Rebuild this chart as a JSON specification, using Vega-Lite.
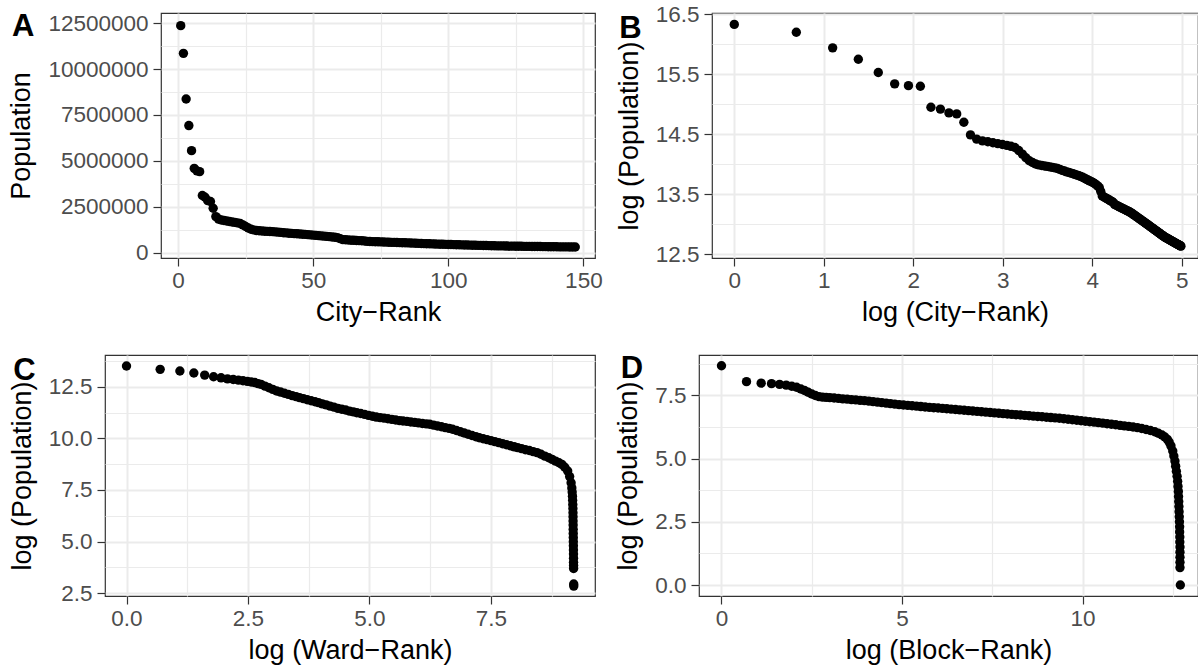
{
  "$schema": "https://vega.github.io/schema/vega-lite/v6.json",
  "background": "white",
  "padding": {"left": 6, "top": 2, "right": 0, "bottom": 0},
  "config": {
    "font": "Liberation Sans",
    "view": {"stroke": "#333333", "strokeWidth": 1.2},
    "axis": {
      "labelFont": "Liberation Sans", "labelFontSize": 22.5, "labelColor": "#4D4D4D",
      "titleFont": "Liberation Sans", "titleFontSize": 27, "titleFontWeight": "normal", "titleColor": "black",
      "tickColor": "#333333", "tickSize": 8, "tickWidth": 1.2,
      "domain": false, "gridColor": "#EBEBEB",
      "labelOverlap": false, "labelFlush": false, "labelBound": false
    },
    "axisX": {"labelPadding": 3, "titlePadding": 8},
    "axisY": {"labelPadding": 5, "titlePadding": 12},
    "title": {"anchor": "start", "frame": "bounds", "fontSize": 31, "fontWeight": "bold", "font": "Liberation Sans", "color": "black", "offset": 0}
  },
  "datasets": {
    "cities": [
      {"rank":1,"pop":12360000,"lrank":0,"lpop":16.33},
      {"rank":2,"pop":10853000,"lrank":0.693,"lpop":16.2},
      {"rank":3,"pop":8369000,"lrank":1.099,"lpop":15.94},
      {"rank":4,"pop":6921000,"lrank":1.386,"lpop":15.75},
      {"rank":5,"pop":5554000,"lrank":1.609,"lpop":15.53},
      {"rank":6,"pop":4593000,"lrank":1.792,"lpop":15.34},
      {"rank":7,"pop":4457000,"lrank":1.946,"lpop":15.31},
      {"rank":8,"pop":4413000,"lrank":2.079,"lpop":15.3},
      {"rank":9,"pop":3110000,"lrank":2.197,"lpop":14.95},
      {"rank":10,"pop":3018000,"lrank":2.303,"lpop":14.92},
      {"rank":11,"pop":2831000,"lrank":2.398,"lpop":14.856},
      {"rank":12,"pop":2786000,"lrank":2.485,"lpop":14.84},
      {"rank":13,"pop":2422000,"lrank":2.565,"lpop":14.7},
      {"rank":14,"pop":1963000,"lrank":2.639,"lpop":14.49},
      {"rank":15,"pop":1830000,"lrank":2.708,"lpop":14.42},
      {"rank":16,"pop":1776000,"lrank":2.773,"lpop":14.39},
      {"rank":17,"pop":1750000,"lrank":2.833,"lpop":14.375},
      {"rank":18,"pop":1724000,"lrank":2.89,"lpop":14.36},
      {"rank":19,"pop":1698000,"lrank":2.944,"lpop":14.345},
      {"rank":20,"pop":1673000,"lrank":2.996,"lpop":14.33},
      {"rank":21,"pop":1648000,"lrank":3.045,"lpop":14.315},
      {"rank":22,"pop":1623000,"lrank":3.091,"lpop":14.3},
      {"rank":23,"pop":1591000,"lrank":3.135,"lpop":14.28},
      {"rank":24,"pop":1514000,"lrank":3.178,"lpop":14.23},
      {"rank":25,"pop":1425000,"lrank":3.219,"lpop":14.17},
      {"rank":26,"pop":1342000,"lrank":3.258,"lpop":14.11},
      {"rank":27,"pop":1277000,"lrank":3.296,"lpop":14.06},
      {"rank":28,"pop":1239000,"lrank":3.332,"lpop":14.03},
      {"rank":29,"pop":1209000,"lrank":3.367,"lpop":14.005},
      {"rank":30,"pop":1191000,"lrank":3.401,"lpop":13.99},
      {"rank":31,"pop":1179000,"lrank":3.434,"lpop":13.98},
      {"rank":32,"pop":1169000,"lrank":3.466,"lpop":13.972},
      {"rank":33,"pop":1161000,"lrank":3.497,"lpop":13.965},
      {"rank":34,"pop":1153000,"lrank":3.526,"lpop":13.958},
      {"rank":35,"pop":1144000,"lrank":3.555,"lpop":13.95},
      {"rank":36,"pop":1133000,"lrank":3.584,"lpop":13.94},
      {"rank":37,"pop":1121000,"lrank":3.611,"lpop":13.93},
      {"rank":38,"pop":1105000,"lrank":3.638,"lpop":13.915},
      {"rank":39,"pop":1088000,"lrank":3.664,"lpop":13.9},
      {"rank":40,"pop":1075000,"lrank":3.689,"lpop":13.888},
      {"rank":41,"pop":1061000,"lrank":3.714,"lpop":13.875},
      {"rank":42,"pop":1051000,"lrank":3.738,"lpop":13.865},
      {"rank":43,"pop":1038000,"lrank":3.761,"lpop":13.853},
      {"rank":44,"pop":1028000,"lrank":3.784,"lpop":13.843},
      {"rank":45,"pop":1017000,"lrank":3.807,"lpop":13.832},
      {"rank":46,"pop":1006000,"lrank":3.829,"lpop":13.821},
      {"rank":47,"pop":995000,"lrank":3.85,"lpop":13.81},
      {"rank":48,"pop":983000,"lrank":3.871,"lpop":13.798},
      {"rank":49,"pop":969000,"lrank":3.892,"lpop":13.784},
      {"rank":50,"pop":956000,"lrank":3.912,"lpop":13.77},
      {"rank":51,"pop":940000,"lrank":3.932,"lpop":13.754},
      {"rank":52,"pop":927000,"lrank":3.951,"lpop":13.74},
      {"rank":53,"pop":913000,"lrank":3.97,"lpop":13.725},
      {"rank":54,"pop":900000,"lrank":3.989,"lpop":13.71},
      {"rank":55,"pop":888000,"lrank":4.007,"lpop":13.697},
      {"rank":56,"pop":873000,"lrank":4.025,"lpop":13.68},
      {"rank":57,"pop":856000,"lrank":4.043,"lpop":13.66},
      {"rank":58,"pop":839000,"lrank":4.06,"lpop":13.64},
      {"rank":59,"pop":818000,"lrank":4.078,"lpop":13.614},
      {"rank":60,"pop":767000,"lrank":4.094,"lpop":13.55},
      {"rank":61,"pop":710000,"lrank":4.111,"lpop":13.473},
      {"rank":62,"pop":701000,"lrank":4.127,"lpop":13.46},
      {"rank":63,"pop":690000,"lrank":4.143,"lpop":13.445},
      {"rank":64,"pop":680000,"lrank":4.159,"lpop":13.43},
      {"rank":65,"pop":673000,"lrank":4.174,"lpop":13.42},
      {"rank":66,"pop":663000,"lrank":4.19,"lpop":13.405},
      {"rank":67,"pop":653000,"lrank":4.205,"lpop":13.39},
      {"rank":68,"pop":647000,"lrank":4.22,"lpop":13.38},
      {"rank":69,"pop":637000,"lrank":4.234,"lpop":13.365},
      {"rank":70,"pop":618000,"lrank":4.248,"lpop":13.334},
      {"rank":71,"pop":611000,"lrank":4.263,"lpop":13.323},
      {"rank":72,"pop":604000,"lrank":4.277,"lpop":13.312},
      {"rank":73,"pop":598000,"lrank":4.29,"lpop":13.302},
      {"rank":74,"pop":592000,"lrank":4.304,"lpop":13.292},
      {"rank":75,"pop":587000,"lrank":4.317,"lpop":13.282},
      {"rank":76,"pop":580000,"lrank":4.331,"lpop":13.271},
      {"rank":77,"pop":574000,"lrank":4.344,"lpop":13.261},
      {"rank":78,"pop":569000,"lrank":4.357,"lpop":13.252},
      {"rank":79,"pop":564000,"lrank":4.369,"lpop":13.243},
      {"rank":80,"pop":559000,"lrank":4.382,"lpop":13.233},
      {"rank":81,"pop":554000,"lrank":4.394,"lpop":13.224},
      {"rank":82,"pop":548000,"lrank":4.407,"lpop":13.214},
      {"rank":83,"pop":543000,"lrank":4.419,"lpop":13.205},
      {"rank":84,"pop":538000,"lrank":4.431,"lpop":13.196},
      {"rank":85,"pop":531000,"lrank":4.443,"lpop":13.183},
      {"rank":86,"pop":525000,"lrank":4.454,"lpop":13.171},
      {"rank":87,"pop":518000,"lrank":4.466,"lpop":13.158},
      {"rank":88,"pop":513000,"lrank":4.477,"lpop":13.147},
      {"rank":89,"pop":506000,"lrank":4.489,"lpop":13.134},
      {"rank":90,"pop":500000,"lrank":4.5,"lpop":13.122},
      {"rank":91,"pop":494000,"lrank":4.511,"lpop":13.111},
      {"rank":92,"pop":489000,"lrank":4.522,"lpop":13.099},
      {"rank":93,"pop":483000,"lrank":4.533,"lpop":13.087},
      {"rank":94,"pop":478000,"lrank":4.543,"lpop":13.077},
      {"rank":95,"pop":472000,"lrank":4.554,"lpop":13.065},
      {"rank":96,"pop":467000,"lrank":4.564,"lpop":13.054},
      {"rank":97,"pop":462000,"lrank":4.575,"lpop":13.043},
      {"rank":98,"pop":457000,"lrank":4.585,"lpop":13.032},
      {"rank":99,"pop":452000,"lrank":4.595,"lpop":13.021},
      {"rank":100,"pop":447000,"lrank":4.605,"lpop":13.011},
      {"rank":101,"pop":442000,"lrank":4.615,"lpop":13.0},
      {"rank":102,"pop":438000,"lrank":4.625,"lpop":12.989},
      {"rank":103,"pop":433000,"lrank":4.635,"lpop":12.978},
      {"rank":104,"pop":429000,"lrank":4.644,"lpop":12.968},
      {"rank":105,"pop":424000,"lrank":4.654,"lpop":12.957},
      {"rank":106,"pop":420000,"lrank":4.663,"lpop":12.947},
      {"rank":107,"pop":415000,"lrank":4.673,"lpop":12.937},
      {"rank":108,"pop":411000,"lrank":4.682,"lpop":12.927},
      {"rank":109,"pop":407000,"lrank":4.691,"lpop":12.917},
      {"rank":110,"pop":403000,"lrank":4.7,"lpop":12.907},
      {"rank":111,"pop":399000,"lrank":4.71,"lpop":12.897},
      {"rank":112,"pop":396000,"lrank":4.718,"lpop":12.888},
      {"rank":113,"pop":392000,"lrank":4.727,"lpop":12.878},
      {"rank":114,"pop":388000,"lrank":4.736,"lpop":12.868},
      {"rank":115,"pop":384000,"lrank":4.745,"lpop":12.859},
      {"rank":116,"pop":380000,"lrank":4.754,"lpop":12.849},
      {"rank":117,"pop":377000,"lrank":4.762,"lpop":12.84},
      {"rank":118,"pop":373000,"lrank":4.771,"lpop":12.83},
      {"rank":119,"pop":370000,"lrank":4.779,"lpop":12.821},
      {"rank":120,"pop":367000,"lrank":4.787,"lpop":12.813},
      {"rank":121,"pop":363000,"lrank":4.796,"lpop":12.803},
      {"rank":122,"pop":360000,"lrank":4.804,"lpop":12.794},
      {"rank":123,"pop":358000,"lrank":4.812,"lpop":12.787},
      {"rank":124,"pop":355000,"lrank":4.82,"lpop":12.78},
      {"rank":125,"pop":353000,"lrank":4.828,"lpop":12.774},
      {"rank":126,"pop":351000,"lrank":4.836,"lpop":12.767},
      {"rank":127,"pop":348000,"lrank":4.844,"lpop":12.76},
      {"rank":128,"pop":346000,"lrank":4.852,"lpop":12.753},
      {"rank":129,"pop":344000,"lrank":4.86,"lpop":12.747},
      {"rank":130,"pop":341000,"lrank":4.868,"lpop":12.74},
      {"rank":131,"pop":339000,"lrank":4.875,"lpop":12.734},
      {"rank":132,"pop":337000,"lrank":4.883,"lpop":12.728},
      {"rank":133,"pop":335000,"lrank":4.89,"lpop":12.721},
      {"rank":134,"pop":333000,"lrank":4.898,"lpop":12.715},
      {"rank":135,"pop":331000,"lrank":4.905,"lpop":12.709},
      {"rank":136,"pop":328000,"lrank":4.913,"lpop":12.702},
      {"rank":137,"pop":326000,"lrank":4.92,"lpop":12.696},
      {"rank":138,"pop":325000,"lrank":4.927,"lpop":12.69},
      {"rank":139,"pop":323000,"lrank":4.934,"lpop":12.684},
      {"rank":140,"pop":321000,"lrank":4.942,"lpop":12.678},
      {"rank":141,"pop":319000,"lrank":4.949,"lpop":12.672},
      {"rank":142,"pop":317000,"lrank":4.956,"lpop":12.666},
      {"rank":143,"pop":315000,"lrank":4.963,"lpop":12.66},
      {"rank":144,"pop":313000,"lrank":4.97,"lpop":12.654},
      {"rank":145,"pop":311000,"lrank":4.977,"lpop":12.648},
      {"rank":146,"pop":310000,"lrank":4.984,"lpop":12.643},
      {"rank":147,"pop":308000,"lrank":4.99,"lpop":12.637}
    ],
    "wards": [
      {"lrank":0,"lpop":13.5},{"lrank":0.693,"lpop":13.34},{"lrank":1.099,"lpop":13.26},{"lrank":1.386,"lpop":13.16},
      {"lrank":1.609,"lpop":13.06},{"lrank":1.792,"lpop":12.98},{"lrank":1.946,"lpop":12.93},{"lrank":2.079,"lpop":12.88},
      {"lrank":2.197,"lpop":12.85},{"lrank":2.303,"lpop":12.82},{"lrank":2.398,"lpop":12.79},{"lrank":2.485,"lpop":12.76},
      {"lrank":2.565,"lpop":12.73},{"lrank":2.64,"lpop":12.7},{"lrank":2.708,"lpop":12.65},{"lrank":2.77,"lpop":12.61},
      {"lrank":2.85,"lpop":12.53},{"lrank":2.93,"lpop":12.45},{"lrank":3.01,"lpop":12.37},{"lrank":3.09,"lpop":12.29},
      {"lrank":3.17,"lpop":12.24},{"lrank":3.25,"lpop":12.18},{"lrank":3.33,"lpop":12.13},{"lrank":3.41,"lpop":12.07},
      {"lrank":3.49,"lpop":12.02},{"lrank":3.56,"lpop":11.97},{"lrank":3.64,"lpop":11.92},{"lrank":3.72,"lpop":11.87},
      {"lrank":3.8,"lpop":11.82},{"lrank":3.88,"lpop":11.77},{"lrank":3.95,"lpop":11.73},{"lrank":4.03,"lpop":11.67},
      {"lrank":4.11,"lpop":11.62},{"lrank":4.19,"lpop":11.56},{"lrank":4.27,"lpop":11.51},{"lrank":4.35,"lpop":11.45},
      {"lrank":4.43,"lpop":11.41},{"lrank":4.51,"lpop":11.37},{"lrank":4.59,"lpop":11.32},{"lrank":4.67,"lpop":11.28},
      {"lrank":4.74,"lpop":11.24},{"lrank":4.82,"lpop":11.2},{"lrank":4.9,"lpop":11.16},{"lrank":4.98,"lpop":11.11},
      {"lrank":5.06,"lpop":11.07},{"lrank":5.14,"lpop":11.03},{"lrank":5.22,"lpop":11.0},{"lrank":5.3,"lpop":10.98},
      {"lrank":5.38,"lpop":10.95},{"lrank":5.46,"lpop":10.92},{"lrank":5.54,"lpop":10.89},{"lrank":5.62,"lpop":10.86},
      {"lrank":5.69,"lpop":10.84},{"lrank":5.77,"lpop":10.82},{"lrank":5.85,"lpop":10.79},{"lrank":5.93,"lpop":10.77},
      {"lrank":6.01,"lpop":10.75},{"lrank":6.09,"lpop":10.72},{"lrank":6.17,"lpop":10.7},{"lrank":6.24,"lpop":10.68},
      {"lrank":6.32,"lpop":10.64},{"lrank":6.4,"lpop":10.6},{"lrank":6.48,"lpop":10.56},{"lrank":6.56,"lpop":10.52},
      {"lrank":6.64,"lpop":10.48},{"lrank":6.71,"lpop":10.44},{"lrank":6.79,"lpop":10.38},{"lrank":6.87,"lpop":10.32},
      {"lrank":6.95,"lpop":10.26},{"lrank":7.03,"lpop":10.2},{"lrank":7.11,"lpop":10.14},{"lrank":7.19,"lpop":10.08},
      {"lrank":7.26,"lpop":10.03},{"lrank":7.34,"lpop":9.98},{"lrank":7.42,"lpop":9.94},{"lrank":7.5,"lpop":9.89},
      {"lrank":7.58,"lpop":9.84},{"lrank":7.66,"lpop":9.79},{"lrank":7.74,"lpop":9.74},{"lrank":7.82,"lpop":9.69},
      {"lrank":7.9,"lpop":9.64},{"lrank":7.98,"lpop":9.59},{"lrank":8.05,"lpop":9.55},{"lrank":8.13,"lpop":9.5},
      {"lrank":8.21,"lpop":9.45},{"lrank":8.29,"lpop":9.41},{"lrank":8.37,"lpop":9.36},{"lrank":8.45,"lpop":9.31},
      {"lrank":8.53,"lpop":9.23},{"lrank":8.61,"lpop":9.14},{"lrank":8.69,"lpop":9.06},{"lrank":8.76,"lpop":8.98},
      {"lrank":8.83,"lpop":8.9},{"lrank":8.9,"lpop":8.82},{"lrank":8.96,"lpop":8.74},{"lrank":9.02,"lpop":8.6},
      {"lrank":9.08,"lpop":8.42},{"lrank":9.12,"lpop":8.15},{"lrank":9.15,"lpop":7.85},{"lrank":9.165,"lpop":7.6},
      {"lrank":9.172,"lpop":7.4},{"lrank":9.178,"lpop":7.2},{"lrank":9.182,"lpop":7.0},{"lrank":9.185,"lpop":6.8},
      {"lrank":9.187,"lpop":6.6},{"lrank":9.189,"lpop":6.4},{"lrank":9.19,"lpop":6.2},{"lrank":9.191,"lpop":6.0},
      {"lrank":9.192,"lpop":5.8},{"lrank":9.193,"lpop":5.6},{"lrank":9.194,"lpop":5.4},{"lrank":9.195,"lpop":5.2},
      {"lrank":9.196,"lpop":5.0},{"lrank":9.197,"lpop":4.8},{"lrank":9.198,"lpop":4.6},{"lrank":9.199,"lpop":4.4},
      {"lrank":9.2,"lpop":4.2},{"lrank":9.2,"lpop":4.0},{"lrank":9.201,"lpop":3.85},{"lrank":9.202,"lpop":3.7},
      {"lrank":9.204,"lpop":2.95},{"lrank":9.205,"lpop":2.85}
    ],
    "blocks": [
      {"lrank":0,"lpop":8.67},{"lrank":0.693,"lpop":8.04},{"lrank":1.099,"lpop":7.98},{"lrank":1.386,"lpop":7.96},
      {"lrank":1.609,"lpop":7.93},{"lrank":1.792,"lpop":7.9},{"lrank":1.946,"lpop":7.86},{"lrank":2.079,"lpop":7.82},
      {"lrank":2.197,"lpop":7.75},{"lrank":2.3,"lpop":7.69},{"lrank":2.4,"lpop":7.62},{"lrank":2.5,"lpop":7.55},
      {"lrank":2.6,"lpop":7.49},{"lrank":2.7,"lpop":7.45},{"lrank":2.8,"lpop":7.43},{"lrank":2.9,"lpop":7.42},
      {"lrank":3.0,"lpop":7.41},{"lrank":3.12,"lpop":7.395},{"lrank":3.24,"lpop":7.38},{"lrank":3.36,"lpop":7.36},
      {"lrank":3.48,"lpop":7.35},{"lrank":3.6,"lpop":7.33},{"lrank":3.72,"lpop":7.32},{"lrank":3.84,"lpop":7.3},
      {"lrank":3.96,"lpop":7.29},{"lrank":4.08,"lpop":7.27},{"lrank":4.2,"lpop":7.25},{"lrank":4.32,"lpop":7.23},
      {"lrank":4.44,"lpop":7.21},{"lrank":4.56,"lpop":7.19},{"lrank":4.68,"lpop":7.17},{"lrank":4.8,"lpop":7.15},
      {"lrank":4.92,"lpop":7.13},{"lrank":5.04,"lpop":7.115},{"lrank":5.16,"lpop":7.1},{"lrank":5.28,"lpop":7.085},
      {"lrank":5.4,"lpop":7.07},{"lrank":5.52,"lpop":7.055},{"lrank":5.64,"lpop":7.04},{"lrank":5.76,"lpop":7.025},
      {"lrank":5.88,"lpop":7.01},{"lrank":6.0,"lpop":7.0},{"lrank":6.12,"lpop":6.985},{"lrank":6.24,"lpop":6.97},
      {"lrank":6.36,"lpop":6.955},{"lrank":6.48,"lpop":6.94},{"lrank":6.6,"lpop":6.925},{"lrank":6.72,"lpop":6.91},
      {"lrank":6.84,"lpop":6.895},{"lrank":6.96,"lpop":6.88},{"lrank":7.08,"lpop":6.865},{"lrank":7.2,"lpop":6.85},
      {"lrank":7.32,"lpop":6.835},{"lrank":7.44,"lpop":6.82},{"lrank":7.56,"lpop":6.805},{"lrank":7.68,"lpop":6.79},
      {"lrank":7.8,"lpop":6.775},{"lrank":7.92,"lpop":6.76},{"lrank":8.04,"lpop":6.745},{"lrank":8.16,"lpop":6.73},
      {"lrank":8.28,"lpop":6.72},{"lrank":8.4,"lpop":6.705},{"lrank":8.52,"lpop":6.69},{"lrank":8.64,"lpop":6.675},
      {"lrank":8.76,"lpop":6.66},{"lrank":8.88,"lpop":6.65},{"lrank":9.0,"lpop":6.635},{"lrank":9.12,"lpop":6.62},
      {"lrank":9.24,"lpop":6.61},{"lrank":9.36,"lpop":6.595},{"lrank":9.48,"lpop":6.575},{"lrank":9.6,"lpop":6.555},
      {"lrank":9.72,"lpop":6.535},{"lrank":9.84,"lpop":6.515},{"lrank":9.96,"lpop":6.495},{"lrank":10.08,"lpop":6.475},
      {"lrank":10.2,"lpop":6.455},{"lrank":10.32,"lpop":6.44},{"lrank":10.44,"lpop":6.42},{"lrank":10.56,"lpop":6.4},
      {"lrank":10.68,"lpop":6.375},{"lrank":10.8,"lpop":6.355},{"lrank":10.92,"lpop":6.335},{"lrank":11.04,"lpop":6.31},
      {"lrank":11.16,"lpop":6.29},{"lrank":11.28,"lpop":6.27},{"lrank":11.4,"lpop":6.245},{"lrank":11.52,"lpop":6.22},
      {"lrank":11.64,"lpop":6.19},{"lrank":11.76,"lpop":6.15},{"lrank":11.88,"lpop":6.11},{"lrank":12.0,"lpop":6.06},
      {"lrank":12.1,"lpop":6.0},{"lrank":12.2,"lpop":5.93},{"lrank":12.28,"lpop":5.85},{"lrank":12.35,"lpop":5.76},
      {"lrank":12.4,"lpop":5.65},{"lrank":12.45,"lpop":5.5},{"lrank":12.5,"lpop":5.3},{"lrank":12.53,"lpop":5.1},
      {"lrank":12.56,"lpop":4.9},{"lrank":12.58,"lpop":4.7},{"lrank":12.6,"lpop":4.5},{"lrank":12.62,"lpop":4.3},
      {"lrank":12.635,"lpop":4.1},{"lrank":12.645,"lpop":3.9},{"lrank":12.655,"lpop":3.7},{"lrank":12.66,"lpop":3.5},
      {"lrank":12.665,"lpop":3.3},{"lrank":12.67,"lpop":3.1},{"lrank":12.675,"lpop":2.9},{"lrank":12.68,"lpop":2.7},
      {"lrank":12.685,"lpop":2.5},{"lrank":12.69,"lpop":2.3},{"lrank":12.69,"lpop":2.1},{"lrank":12.695,"lpop":1.9},
      {"lrank":12.695,"lpop":1.7},{"lrank":12.7,"lpop":1.5},{"lrank":12.7,"lpop":1.3},{"lrank":12.7,"lpop":1.1},
      {"lrank":12.7,"lpop":0.9},{"lrank":12.7,"lpop":0.69},{"lrank":12.71,"lpop":0.0}
    ]
  },
  "columns": 2,
  "align": "none",
  "spacing": {"row": 22, "column": 0},
  "concat": [
    {
      "width": 1, "height": 1,
      "view": {"stroke": null},
      "data": {"values": []},
      "mark": {"type": "point", "opacity": 0},
      "encoding": {}
    },
    {
      "bounds": "flush",
      "spacing": 117,
      "hconcat": [
        {
          "width": 434, "height": 245,
          "data": {"name": "cities"},
          "title": {"text": "A", "dy": 35, "dx": 4},
          "mark": {"type": "point", "filled": true, "size": 88, "color": "black", "opacity": 1},
          "encoding": {
            "x": {"field": "rank", "type": "quantitative",
              "scale": {"domain": [-6.3, 154.3], "nice": false, "zero": false},
              "axis": {"title": "City−Rank", "format": "d", "values": [0, 25, 50, 75, 100, 125, 150],
                "labelExpr": "datum.value % 50 === 0 ? datum.label : ''",
                "tickOpacity": {"condition": {"test": "datum.value % 50 !== 0", "value": 0}, "value": 1},
                "gridWidth": {"condition": {"test": "datum.value % 50 !== 0", "value": 1.2}, "value": 2}}},
            "y": {"field": "pop", "type": "quantitative",
              "scale": {"domain": [-290000, 13050000], "nice": false, "zero": false},
              "axis": {"title": "Population", "format": "d",
                "values": [0, 1250000, 2500000, 3750000, 5000000, 6250000, 7500000, 8750000, 10000000, 11250000, 12500000],
                "labelExpr": "datum.value % 2500000 === 0 ? datum.label : ''",
                "tickOpacity": {"condition": {"test": "datum.value % 2500000 !== 0", "value": 0}, "value": 1},
                "gridWidth": {"condition": {"test": "datum.value % 2500000 !== 0", "value": 1.2}, "value": 2}}}
          }
        },
        {
          "width": 486, "height": 245,
          "data": {"name": "cities"},
          "title": {"text": "B", "dy": 46, "dx": 4},
          "mark": {"type": "point", "filled": true, "size": 88, "color": "black", "opacity": 1},
          "encoding": {
            "x": {"field": "lrank", "type": "quantitative",
              "scale": {"domain": [-0.249, 5.181], "nice": false, "zero": false},
              "axis": {"title": "log (City−Rank)", "format": "d", "values": [0, 0.5, 1, 1.5, 2, 2.5, 3, 3.5, 4, 4.5, 5],
                "labelExpr": "datum.value % 1 === 0 ? datum.label : ''",
                "tickOpacity": {"condition": {"test": "datum.value % 1 !== 0", "value": 0}, "value": 1},
                "gridWidth": {"condition": {"test": "datum.value % 1 !== 0", "value": 1.2}, "value": 2}}},
            "y": {"field": "lpop", "type": "quantitative",
              "scale": {"domain": [12.44, 16.52], "nice": false, "zero": false},
              "axis": {"title": "log (Population)", "format": ".1f", "values": [12.5, 13, 13.5, 14, 14.5, 15, 15.5, 16, 16.5],
                "labelExpr": "(datum.value - 0.5) % 1 === 0 ? datum.label : ''",
                "tickOpacity": {"condition": {"test": "(datum.value - 0.5) % 1 !== 0", "value": 0}, "value": 1},
                "gridWidth": {"condition": {"test": "(datum.value - 0.5) % 1 !== 0", "value": 1.2}, "value": 2}}}
          }
        }
      ]
    },
    {
      "width": 1, "height": 1,
      "view": {"stroke": null},
      "data": {"values": []},
      "mark": {"type": "point", "opacity": 0},
      "encoding": {}
    },
    {
      "bounds": "flush",
      "spacing": 104,
      "hconcat": [
        {
          "width": 490, "height": 241,
          "data": {"name": "wards"},
          "title": {"text": "C", "dy": 41, "dx": 5},
          "mark": {"type": "point", "filled": true, "size": 88, "color": "black", "opacity": 1},
          "encoding": {
            "x": {"field": "lrank", "type": "quantitative",
              "scale": {"domain": [-0.4425, 9.642], "nice": false, "zero": false},
              "axis": {"title": "log (Ward−Rank)", "format": ".1f", "values": [0, 1.25, 2.5, 3.75, 5, 6.25, 7.5, 8.75],
                "labelExpr": "datum.value % 2.5 === 0 ? datum.label : ''",
                "tickOpacity": {"condition": {"test": "datum.value % 2.5 !== 0", "value": 0}, "value": 1},
                "gridWidth": {"condition": {"test": "datum.value % 2.5 !== 0", "value": 1.2}, "value": 2}}},
            "y": {"field": "lpop", "type": "quantitative",
              "scale": {"domain": [2.369, 14.034], "nice": false, "zero": false},
              "axis": {"title": "log (Population)", "format": ".1f", "values": [2.5, 3.75, 5, 6.25, 7.5, 8.75, 10, 11.25, 12.5, 13.75],
                "labelExpr": "datum.value % 2.5 === 0 ? datum.label : ''",
                "tickOpacity": {"condition": {"test": "datum.value % 2.5 !== 0", "value": 0}, "value": 1},
                "gridWidth": {"condition": {"test": "datum.value % 2.5 !== 0", "value": 1.2}, "value": 2}}}
          }
        },
        {
          "width": 499, "height": 241,
          "data": {"name": "blocks"},
          "title": {"text": "D", "dy": 36, "dx": 6},
          "mark": {"type": "point", "filled": true, "size": 88, "color": "black", "opacity": 1},
          "encoding": {
            "x": {"field": "lrank", "type": "quantitative",
              "scale": {"domain": [-0.623, 13.199], "nice": false, "zero": false},
              "axis": {"title": "log (Block−Rank)", "format": "d", "values": [0, 2.5, 5, 7.5, 10, 12.5],
                "labelExpr": "datum.value % 5 === 0 ? datum.label : ''",
                "tickOpacity": {"condition": {"test": "datum.value % 5 !== 0", "value": 0}, "value": 1},
                "gridWidth": {"condition": {"test": "datum.value % 5 !== 0", "value": 1.2}, "value": 2}}},
            "y": {"field": "lpop", "type": "quantitative",
              "scale": {"domain": [-0.433, 9.093], "nice": false, "zero": false},
              "axis": {"title": "log (Population)", "format": ".1f", "values": [0, 1.25, 2.5, 3.75, 5, 6.25, 7.5, 8.75],
                "labelExpr": "datum.value % 2.5 === 0 ? datum.label : ''",
                "tickOpacity": {"condition": {"test": "datum.value % 2.5 !== 0", "value": 0}, "value": 1},
                "gridWidth": {"condition": {"test": "datum.value % 2.5 !== 0", "value": 1.2}, "value": 2}}}
          }
        }
      ]
    }
  ]
}
